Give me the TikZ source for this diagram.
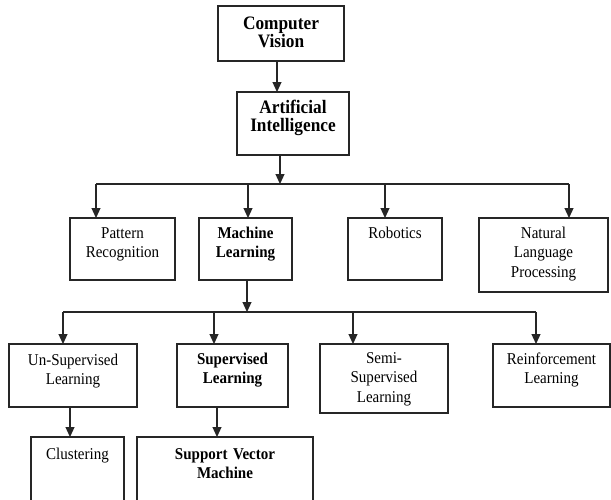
\documentclass[tikz,border=0pt]{standalone}
\usepackage{fontspec}
\setmainfont{Liberation Serif}[FakeStretch=0.91]
\usetikzlibrary{arrows.meta}
\newcommand\mybox[8]{%
  \node[bx,minimum width={#4-#2},minimum height={#5-#3}] (#1) at ({(#2+#4)/2},{(#3+#5)/2}) {};
  \node[txt,font=#7] (#1t) at ({(#2+#4)/2},#6) {#8};}
\begin{document}
\begin{tikzpicture}[x=1pt,y=-1pt,
  bx/.style={draw=black!85,line width=1.2pt,inner sep=0pt,outer sep=0pt,rectangle},
  txt/.style={anchor=base,align=center,inner sep=0pt,text width=150pt},
  ln/.style={draw=black!85,line width=1.2pt},
  arr/.style={draw=black!85,line width=1.2pt,-{Triangle[length=10pt,width=9pt]}}]
\useasboundingbox (0,0) rectangle (611,499);
\clip (0,0) rectangle (611,499);
\def\topf{\fontsize{19}{18}\selectfont\bfseries}
\def\regf{\fontsize{16.5}{19.5}\selectfont}
\def\boldf{\fontsize{16.5}{19.5}\selectfont\bfseries}
\mybox{CV}{218}{6}{344}{61}{29}{\topf}{Computer\\Vision}
\mybox{AI}{237}{92}{349}{155}{113}{\topf}{Artificial\\Intelligence}
\mybox{PR}{70}{218}{175}{280}{238}{\regf}{Pattern\\Recognition}
\mybox{ML}{199}{218}{292}{280}{238}{\boldf}{Machine\\Learning}
\mybox{RB}{348}{218}{442}{280}{238}{\regf}{Robotics}
\mybox{NLP}{479}{218}{608}{292}{238}{\regf}{Natural\\Language\\Processing}
\mybox{US}{9}{344}{137}{407}{365}{\regf}{Un-Supervised\\Learning}
\mybox{SL}{177}{344}{288}{407}{364}{\boldf}{Supervised\\Learning}
\mybox{SS}{320}{344}{448}{413}{363}{\regf}{Semi-\\Supervised\\Learning}
\mybox{RL}{493}{344}{610}{407}{364}{\regf}{Reinforcement\\Learning}
\mybox{CL}{31}{437}{124}{515}{459}{\regf}{Clustering}
\mybox{SVM}{137}{437}{313}{515}{459}{\boldf}{Support Vector\\Machine}
% level 1
\draw[arr] ([xshift=-4pt]CV.south) -- ([xshift=-4pt]CV.south |- AI.north);
\coordinate (j1) at (280,184);
\draw[arr] (AI.south -| j1) -- (j1);
\coordinate (d1) at (96,184);
\coordinate (d2) at (248,184);
\coordinate (d3) at (385,184);
\coordinate (d4) at (569,184);
\draw[ln] (d1) -- (d4);
\draw[arr] (d1) -- (d1 |- PR.north);
\draw[arr] (d2) -- (d2 |- ML.north);
\draw[arr] (d3) -- (d3 |- RB.north);
\draw[arr] (d4) -- (d4 |- NLP.north);
% level 2
\coordinate (j2) at (247,312);
\draw[arr] (ML.south -| j2) -- (j2);
\coordinate (e1) at (63,312);
\coordinate (e2) at (214,312);
\coordinate (e3) at (353,312);
\coordinate (e4) at (536,312);
\draw[ln] (e1) -- (e4);
\draw[arr] (e1) -- (e1 |- US.north);
\draw[arr] (e2) -- (e2 |- SL.north);
\draw[arr] (e3) -- (e3 |- SS.north);
\draw[arr] (e4) -- (e4 |- RL.north);
% level 3
\coordinate (f1) at (70,437);
\coordinate (f2) at (217,437);
\draw[arr] (US.south -| f1) -- (f1);
\draw[arr] (SL.south -| f2) -- (f2);
\end{tikzpicture}
\end{document}
